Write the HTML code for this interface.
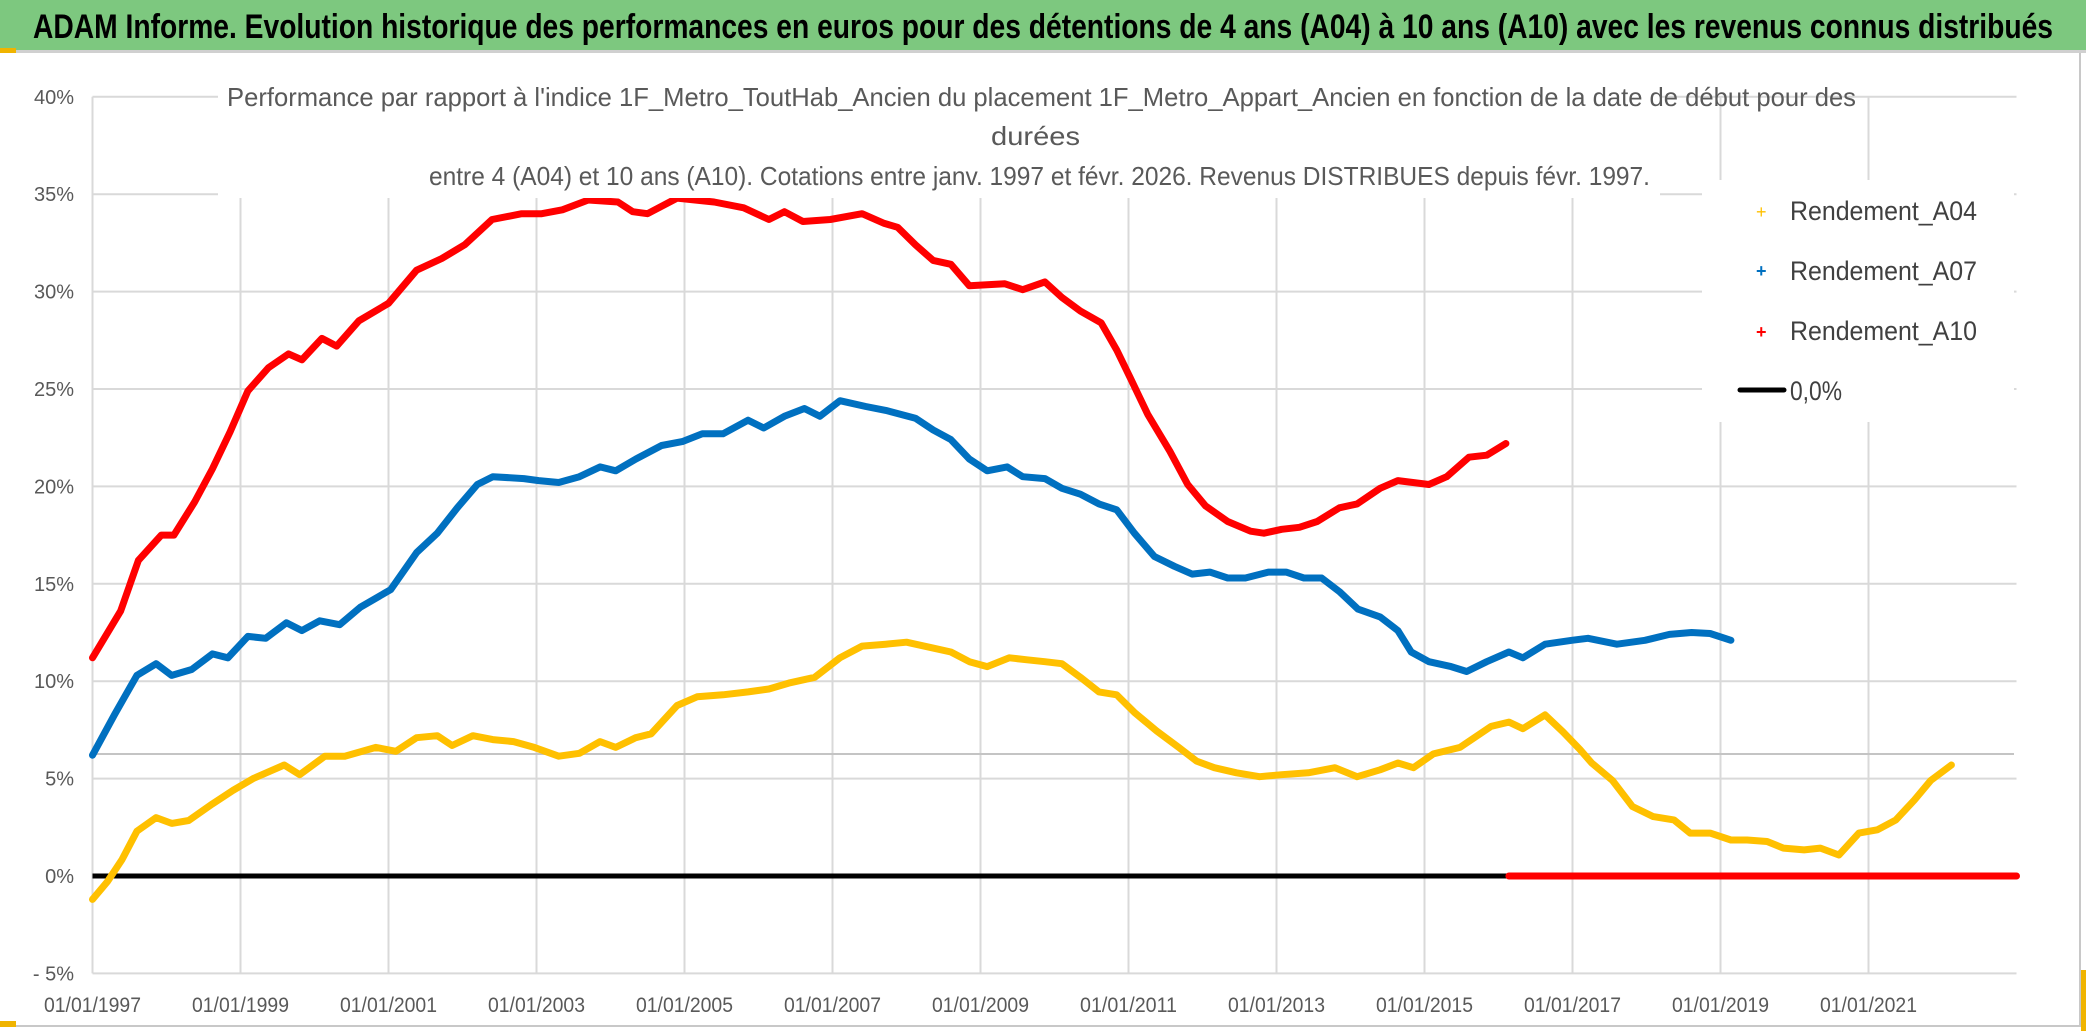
<!DOCTYPE html>
<html><head><meta charset="utf-8">
<style>
html,body{margin:0;padding:0;background:#fff;}
svg{display:block;font-family:"Liberation Sans",sans-serif;}
</style></head>
<body>
<svg id="chart" width="2086" height="1031" viewBox="0 0 2086 1031" xmlns="http://www.w3.org/2000/svg">
<rect x="0" y="0" width="2086" height="1031" fill="#fff"/>
<rect x="0" y="0" width="2086" height="50" fill="#7dc87f"/>
<rect x="0" y="50" width="2086" height="3" fill="#d0d0d0"/>
<rect x="0" y="48" width="16" height="5" fill="#f0b400"/>
<text x="33" y="38" font-size="34" font-weight="bold" fill="#000" textLength="2020" lengthAdjust="spacingAndGlyphs">ADAM Informe. Evolution historique des performances en euros pour des détentions de 4 ans (A04) à 10 ans (A10) avec les revenus connus distribués</text>
<rect x="2079" y="53" width="2" height="972" fill="#c8c8c8"/>
<rect x="0" y="1025" width="2081" height="2" fill="#c8c8c8"/>
<rect x="2081" y="970" width="5" height="61" fill="#f0b400"/>
<rect x="0" y="1021" width="16" height="6" fill="#f0b400"/>
<g id="grid"></g>
<line x1="92" y1="754" x2="2014" y2="754" stroke="#c4c4c4" stroke-width="2"/>
<g id="axes"></g>
<g id="series"></g>
<rect x="218" y="62" width="1442" height="136" fill="#fff"/>
<g font-size="26" fill="#595959">
<text x="227" y="106" textLength="1629" lengthAdjust="spacingAndGlyphs">Performance  par rapport à l'indice 1F_Metro_ToutHab_Ancien  du placement 1F_Metro_Appart_Ancien en fonction de la date de début pour des</text>
<text x="991" y="145" textLength="89" lengthAdjust="spacingAndGlyphs">durées</text>
<text x="429" y="185" textLength="1221" lengthAdjust="spacingAndGlyphs">entre 4 (A04) et 10 ans (A10). Cotations entre janv. 1997 et févr. 2026. Revenus DISTRIBUES depuis févr. 1997.</text>
</g>
<g>
<rect x="1702" y="180" width="312" height="242" fill="#fff"/>
<g><text x="1756" y="218" font-size="18" fill="#ffc000">+</text><text x="1790" y="220" font-size="27" fill="#404040" textLength="187" lengthAdjust="spacingAndGlyphs">Rendement_A04</text></g>
<g><text x="1756" y="277" font-size="18" fill="#0070c0" font-weight="bold">+</text><text x="1790" y="280" font-size="27" fill="#404040" textLength="187" lengthAdjust="spacingAndGlyphs">Rendement_A07</text></g>
<g><text x="1756" y="338" font-size="18" fill="#ff0000" font-weight="bold">+</text><text x="1790" y="340" font-size="27" fill="#404040" textLength="187" lengthAdjust="spacingAndGlyphs">Rendement_A10</text></g>
<g><line x1="1740" y1="390" x2="1784" y2="390" stroke="#000" stroke-width="5" stroke-linecap="round"/><text x="1790" y="400" font-size="27" fill="#404040" textLength="52" lengthAdjust="spacingAndGlyphs">0,0%</text></g>
</g>
</svg>
<script>
const yTicks = [-5, 0, 5, 10, 15, 20, 25, 30, 35, 40];
const xTickYears = [1997,1999,2001,2003,2005,2007,2009,2011,2013,2015,2017,2019,2021];
const xTickLabels = ["01/01/1997","01/01/1999","01/01/2001","01/01/2003","01/01/2005","01/01/2007","01/01/2009","01/01/2011","01/01/2013","01/01/2015","01/01/2017","01/01/2019","01/01/2021"];

const a10Years = [1997.0,1997.38,1997.62,1997.93,1998.1,1998.38,1998.62,1998.86,1999.1,1999.38,1999.65,1999.83,2000.1,2000.3,2000.6,2001.0,2001.38,2001.72,2002.03,2002.4,2002.8,2003.07,2003.35,2003.7,2004.1,2004.3,2004.5,2004.9,2005.4,2005.8,2006.14,2006.35,2006.6,2006.97,2007.4,2007.7,2007.88,2008.12,2008.36,2008.6,2008.85,2009.33,2009.57,2009.87,2010.1,2010.35,2010.63,2010.84,2011.02,2011.26,2011.56,2011.8,2012.04,2012.34,2012.65,2012.83,2013.07,2013.31,2013.55,2013.85,2014.09,2014.4,2014.64,2015.06,2015.3,2015.6,2015.84,2016.1];
const a10Values = [11.2,13.6,16.2,17.5,17.5,19.2,20.9,22.8,24.9,26.1,26.8,26.5,27.6,27.2,28.5,29.4,31.1,31.7,32.4,33.7,34.0,34.0,34.2,34.7,34.6,34.1,34.0,34.8,34.6,34.3,33.7,34.1,33.6,33.7,34.0,33.5,33.3,32.4,31.6,31.4,30.3,30.4,30.1,30.5,29.7,29.0,28.4,27.0,25.6,23.7,21.8,20.1,19.0,18.2,17.7,17.6,17.8,17.9,18.2,18.9,19.1,19.9,20.3,20.1,20.5,21.5,21.6,22.2];

const a07Years = [1997.0,1997.3,1997.6,1997.86,1998.07,1998.34,1998.62,1998.83,1999.1,1999.34,1999.62,1999.83,2000.07,2000.34,2000.62,2001.03,2001.38,2001.66,2001.93,2002.2,2002.41,2002.83,2003.03,2003.3,2003.58,2003.86,2004.07,2004.34,2004.69,2004.97,2005.24,2005.52,2005.86,2006.07,2006.35,2006.62,2006.83,2007.1,2007.45,2007.72,2008.12,2008.36,2008.6,2008.85,2009.09,2009.36,2009.57,2009.87,2010.1,2010.35,2010.6,2010.84,2011.08,2011.35,2011.62,2011.86,2012.1,2012.34,2012.58,2012.89,2013.13,2013.37,2013.61,2013.85,2014.1,2014.4,2014.64,2014.82,2015.06,2015.36,2015.57,2015.84,2016.14,2016.33,2016.63,2016.99,2017.21,2017.6,2017.98,2018.31,2018.61,2018.86,2019.14];
const a07Values = [6.2,8.3,10.3,10.9,10.3,10.6,11.4,11.2,12.3,12.2,13.0,12.6,13.1,12.9,13.8,14.7,16.6,17.6,18.9,20.1,20.5,20.4,20.3,20.2,20.5,21.0,20.8,21.4,22.1,22.3,22.7,22.7,23.4,23.0,23.6,24.0,23.6,24.4,24.1,23.9,23.5,22.9,22.4,21.4,20.8,21.0,20.5,20.4,19.9,19.6,19.1,18.8,17.6,16.4,15.9,15.5,15.6,15.3,15.3,15.6,15.6,15.3,15.3,14.6,13.7,13.3,12.6,11.5,11.0,10.75,10.5,11.0,11.5,11.2,11.9,12.1,12.2,11.9,12.1,12.4,12.5,12.45,12.1];

const a04Years = [1997.0,1997.2,1997.4,1997.6,1997.86,1998.07,1998.3,1998.62,1998.9,1999.17,1999.59,1999.8,2000.14,2000.41,2000.83,2001.1,2001.38,2001.66,2001.86,2002.14,2002.41,2002.69,2002.97,2003.3,2003.58,2003.86,2004.07,2004.34,2004.55,2004.9,2005.17,2005.52,2005.86,2006.14,2006.41,2006.76,2007.1,2007.4,2007.72,2008.0,2008.36,2008.6,2008.85,2009.09,2009.39,2009.63,2009.87,2010.1,2010.35,2010.6,2010.84,2011.08,2011.38,2011.68,2011.92,2012.16,2012.46,2012.77,2013.07,2013.43,2013.79,2014.09,2014.4,2014.64,2014.85,2015.12,2015.48,2015.9,2016.14,2016.33,2016.63,2016.87,2017.1,2017.26,2017.54,2017.81,2018.09,2018.37,2018.59,2018.86,2019.14,2019.36,2019.63,2019.85,2020.13,2020.35,2020.6,2020.87,2021.12,2021.37,2021.62,2021.84,2022.12];
const a04Values = [-1.2,-0.3,0.85,2.3,3.0,2.7,2.85,3.7,4.4,5.0,5.7,5.2,6.15,6.15,6.6,6.4,7.1,7.2,6.7,7.2,7.0,6.9,6.6,6.15,6.3,6.9,6.6,7.1,7.3,8.75,9.2,9.3,9.45,9.6,9.9,10.2,11.2,11.8,11.9,12.0,11.7,11.5,11.0,10.75,11.2,11.1,11.0,10.9,10.2,9.45,9.3,8.4,7.45,6.6,5.9,5.56,5.3,5.1,5.2,5.3,5.56,5.1,5.45,5.8,5.56,6.27,6.6,7.68,7.9,7.56,8.27,7.4,6.5,5.8,4.9,3.57,3.05,2.88,2.2,2.2,1.85,1.85,1.77,1.43,1.34,1.43,1.08,2.2,2.37,2.88,3.9,4.9,5.7];

const zeroStart = [1997.0];
const zeroEnd = [2016.14];
const a10ZeroYears = [2016.14, 2023.0];
const a10ZeroValues = [0, 0];

const NS = "http://www.w3.org/2000/svg";
const X0 = 92.5, PXY = 74, Y0 = 876, PXP = 19.48;
function xs(yr){ return X0 + (yr - 1997) * PXY; }
function ys(v){ return Y0 - v * PXP; }
function mk(tag, attrs, parent){
  const e = document.createElementNS(NS, tag);
  for (const k in attrs) e.setAttribute(k, attrs[k]);
  parent.appendChild(e);
  return e;
}
const grid = document.getElementById('grid');
const axes = document.getElementById('axes');
const series = document.getElementById('series');
const plotRight = xs(2023);

yTicks.forEach(v => {
  const l = mk('line', {x1: xs(1997), x2: plotRight, y1: ys(v), y2: ys(v), stroke: '#d9d9d9', 'stroke-width': 2}, grid);
  
  
  const t = mk('text', {x: 74, y: ys(v) + 7, 'text-anchor': 'end', 'font-size': 20, fill: '#595959'}, axes);
  t.textContent = v < 0 ? '- ' + Math.abs(v) + '%' : v + '%';
  
  
});
xTickYears.forEach((yr, i) => {
  const l = mk('line', {x1: xs(yr), x2: xs(yr), y1: ys(40), y2: ys(-5), stroke: '#d9d9d9', 'stroke-width': 2}, grid);
  
  
  const t = mk('text', {x: xs(yr), y: 1012, 'text-anchor': 'middle', 'font-size': 21, fill: '#595959', textLength: 97, lengthAdjust: 'spacingAndGlyphs'}, axes);
  t.textContent = xTickLabels[i];
  
  
});

function line(yrs, vals, color, w, name, dash){
  const pts = yrs.map((y, i) => xs(y).toFixed(1) + ',' + ys(vals[i]).toFixed(1)).join(' ');
  const p = mk('polyline', {points: pts, fill: 'none', stroke: color, 'stroke-width': w, 'stroke-linejoin': 'round', 'stroke-linecap': 'round'}, series);
  if (dash) p.setAttribute('stroke-dasharray', dash);
  
  
}
const zl = mk('line', {x1: xs(zeroStart[0]), x2: xs(zeroEnd[0]), y1: ys(0), y2: ys(0), stroke: '#000', 'stroke-width': 5}, series);


line(a04Years, a04Values, '#ffc000', 7, 'series-a04');
line(a07Years, a07Values, '#0070c0', 7, 'series-a07');
line(a10Years, a10Values, '#ff0000', 7, 'series-a10');
line(a10ZeroYears, a10ZeroValues, '#ff0000', 7, 'series-a10-zero');
</script>
</body></html>
